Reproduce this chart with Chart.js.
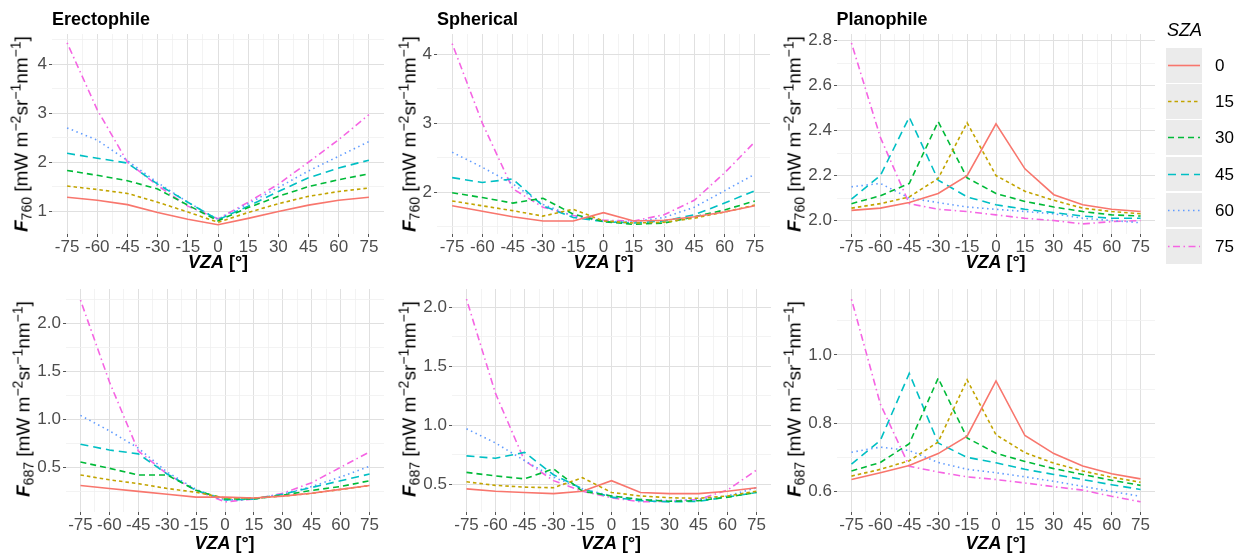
<!DOCTYPE html>
<html><head><meta charset="utf-8">
<script src="https://cdn.jsdelivr.net/npm/chart.js@4"></script>
<style>
html,body{margin:0;padding:0;background:#fff;}
body{width:1238px;height:558px;position:relative;overflow:hidden;font-family:"Liberation Sans",Arial,sans-serif;}
canvas{position:absolute;}
.ptitle{position:absolute;font-weight:bold;font-size:18px;line-height:20px;color:#000;white-space:nowrap;}
.ytitle{position:absolute;font-size:19px;line-height:20px;white-space:nowrap;color:#000;transform:translate(-50%,-50%) rotate(-90deg);}
.ytitle .b{font-weight:bold;font-style:italic;}
.ytitle .sub{font-size:14px;position:relative;top:4px;}
.ytitle .sup{font-size:14px;position:relative;top:-7px;}
.xtitle{position:absolute;font-size:18px;line-height:20px;font-weight:bold;white-space:nowrap;color:#000;transform:translate(-50%,-50%);}
.legtitle{position:absolute;font-size:18px;font-style:italic;line-height:20px;color:#000;}
.legkey{position:absolute;background:#ebebeb;}
.leglab{position:absolute;font-size:17px;line-height:20px;color:#000;}
</style>
</head><body>
<script>
// ---------- data ----------
const vza = [-75, -60, -45, -30, -15, 0, 15, 30, 45, 60, 75];
const szaLevels = ['0', '15', '30', '45', '60', '75'];
const xTickValues = [-75, -60, -45, -30, -15, 0, 15, 30, 45, 60, 75];
const xTickLabels = ['-75', '-60', '-45', '-30', '-15', '0', '15', '30', '45', '60', '75'];

// rows: SZA 0, 15, 30, 45, 60, 75 ; columns: VZA
const erectophile760 = [
  [1.28, 1.22, 1.13, 0.97, 0.83, 0.72, 0.85, 0.99, 1.12, 1.22, 1.28],
  [1.51, 1.44, 1.36, 1.18, 0.98, 0.77, 0.97, 1.15, 1.30, 1.40, 1.47],
  [1.83, 1.73, 1.62, 1.45, 1.12, 0.80, 1.07, 1.30, 1.50, 1.64, 1.76],
  [2.18, 2.08, 1.98, 1.55, 1.18, 0.82, 1.10, 1.40, 1.68, 1.88, 2.04],
  [2.70, 2.45, 2.03, 1.58, 1.18, 0.83, 1.15, 1.48, 1.82, 2.12, 2.42],
  [4.44, 3.07, 2.00, 1.52, 1.10, 0.84, 1.18, 1.55, 2.00, 2.46, 2.97]
];
const spherical760 = [
  [1.80, 1.72, 1.64, 1.58, 1.58, 1.70, 1.58, 1.59, 1.64, 1.71, 1.80],
  [1.87, 1.80, 1.73, 1.65, 1.75, 1.58, 1.55, 1.56, 1.62, 1.71, 1.81],
  [1.99, 1.92, 1.84, 1.91, 1.68, 1.57, 1.53, 1.55, 1.64, 1.74, 1.87],
  [2.21, 2.14, 2.19, 1.80, 1.63, 1.57, 1.55, 1.58, 1.67, 1.84, 2.02],
  [2.58, 2.36, 2.12, 1.82, 1.65, 1.57, 1.57, 1.63, 1.78, 2.02, 2.26],
  [4.16, 3.00, 2.05, 1.78, 1.66, 1.59, 1.58, 1.67, 1.88, 2.28, 2.73]
];
const planophile760 = [
  [2.045, 2.055, 2.08, 2.12, 2.20, 2.43, 2.23, 2.115, 2.07, 2.05, 2.04],
  [2.055, 2.075, 2.105, 2.187, 2.435, 2.20, 2.13, 2.09, 2.055, 2.04, 2.03],
  [2.075, 2.11, 2.165, 2.44, 2.19, 2.12, 2.085, 2.06, 2.04, 2.025, 2.02],
  [2.095, 2.20, 2.46, 2.18, 2.105, 2.07, 2.05, 2.035, 2.02, 2.01, 2.01],
  [2.15, 2.165, 2.10, 2.08, 2.06, 2.05, 2.04, 2.03, 2.01, 2.00, 1.99],
  [2.79, 2.37, 2.075, 2.05, 2.04, 2.025, 2.01, 2.00, 1.985, 1.995, 2.00]
];
const erectophile687 = [
  [0.31, 0.28, 0.25, 0.22, 0.19, 0.19, 0.18, 0.20, 0.23, 0.27, 0.31],
  [0.42, 0.37, 0.33, 0.28, 0.24, 0.18, 0.18, 0.20, 0.23, 0.27, 0.31],
  [0.555, 0.49, 0.42, 0.42, 0.26, 0.17, 0.17, 0.21, 0.26, 0.30, 0.36],
  [0.74, 0.68, 0.64, 0.43, 0.26, 0.16, 0.17, 0.22, 0.29, 0.36, 0.43],
  [1.04, 0.88, 0.70, 0.45, 0.27, 0.16, 0.17, 0.22, 0.30, 0.40, 0.51],
  [2.24, 1.39, 0.67, 0.43, 0.26, 0.14, 0.17, 0.23, 0.34, 0.50, 0.66]
];
const spherical687 = [
  [0.46, 0.44, 0.43, 0.42, 0.44, 0.53, 0.43, 0.42, 0.42, 0.44, 0.47],
  [0.52, 0.49, 0.475, 0.47, 0.555, 0.43, 0.40, 0.385, 0.38, 0.40, 0.44],
  [0.60, 0.57, 0.545, 0.63, 0.44, 0.40, 0.37, 0.355, 0.36, 0.39, 0.43],
  [0.74, 0.72, 0.77, 0.58, 0.46, 0.39, 0.36, 0.35, 0.355, 0.39, 0.43],
  [0.97, 0.85, 0.70, 0.56, 0.46, 0.40, 0.37, 0.36, 0.37, 0.40, 0.47],
  [2.07, 1.27, 0.70, 0.53, 0.44, 0.385, 0.35, 0.355, 0.37, 0.45, 0.62]
];
const planophile687 = [
  [0.635, 0.655, 0.676, 0.711, 0.762, 0.924, 0.764, 0.711, 0.675, 0.652, 0.637],
  [0.645, 0.665, 0.69, 0.745, 0.927, 0.766, 0.714, 0.683, 0.66, 0.642, 0.627],
  [0.66, 0.685, 0.74, 0.932, 0.757, 0.712, 0.688, 0.667, 0.65, 0.633, 0.618],
  [0.68, 0.75, 0.946, 0.742, 0.70, 0.684, 0.665, 0.65, 0.635, 0.62, 0.606],
  [0.715, 0.73, 0.72, 0.685, 0.665, 0.655, 0.643, 0.63, 0.615, 0.60, 0.586],
  [1.163, 0.856, 0.674, 0.657, 0.643, 0.635, 0.625, 0.614, 0.604, 0.586, 0.57]
];

const yTicks760Ere = [1, 2, 3, 4];
const yLabels760Ere = ['1', '2', '3', '4'];
const yTicks760Sph = [2, 3, 4];
const yLabels760Sph = ['2', '3', '4'];
const yTicks760Pla = [2.0, 2.2, 2.4, 2.6, 2.8];
const yLabels760Pla = ['2.0', '2.2', '2.4', '2.6', '2.8'];
const yTicks687 = [0.5, 1.0, 1.5, 2.0];
const yLabels687 = ['0.5', '1.0', '1.5', '2.0'];
const yTicks687Pla = [0.6, 0.8, 1.0];
const yLabels687Pla = ['0.6', '0.8', '1.0'];

// ---------- styling ----------
const colors = ['#F8766D', '#C2A400', '#00BA38', '#00BFC4', '#619CFF', '#F564E3'];
const dashes = [[], [3.5, 3], [6, 4], [8, 5], [1.5, 3.5], [1.5, 3.5, 7, 3.5]];
const FONT = '"Liberation Sans", Arial, sans-serif';
const YW = 46, XH = 26, PT = 14, PR = 12;

const panels = [
  {data: erectophile760, L: 52, R: 384, T: 34, B: 234, ymin: 0.53, ymax: 4.62, yt: yTicks760Ere, yl: yLabels760Ere, ym: [1.5, 2.5, 3.5, 4.5], title: 'Erectophile', band: '760'},
  {data: spherical760, L: 437, R: 770, T: 34, B: 234, ymin: 1.39, ymax: 4.30, yt: yTicks760Sph, yl: yLabels760Sph, ym: [1.5, 2.5, 3.5], title: 'Spherical', band: '760'},
  {data: planophile760, L: 836.5, R: 1154.5, T: 34, B: 234, ymin: 1.94, ymax: 2.83, yt: yTicks760Pla, yl: yLabels760Pla, ym: [2.1, 2.3, 2.5, 2.7], title: 'Planophile', band: '760'},
  {data: erectophile687, L: 65.5, R: 383.5, T: 289, B: 512, ymin: 0.035, ymax: 2.355, yt: yTicks687, yl: yLabels687, ym: [0.25, 0.75, 1.25, 1.75, 2.25], band: '687'},
  {data: spherical687, L: 451.5, R: 770.5, T: 289, B: 512, ymin: 0.264, ymax: 2.156, yt: yTicks687, yl: yLabels687, ym: [0.75, 1.25, 1.75], band: '687'},
  {data: planophile687, L: 836.5, R: 1154.5, T: 289, B: 512, ymin: 0.54, ymax: 1.193, yt: yTicks687Pla, yl: yLabels687Pla, ym: [0.7, 0.9, 1.1], band: '687'}
];
const yTitleCenters = [[22, 134], [410, 134], [795, 134], [24, 399], [410, 399], [795, 399]];
const xMinor = [-67.5, -52.5, -37.5, -22.5, -7.5, 7.5, 22.5, 37.5, 52.5, 67.5];

function addDiv(cls, html, style) {
  const d = document.createElement('div');
  d.className = cls; d.innerHTML = html;
  Object.assign(d.style, style);
  document.body.appendChild(d);
  return d;
}

panels.forEach((p, idx) => {
  const cv = document.createElement('canvas');
  const w = YW + (p.R - p.L) + PR, h = PT + (p.B - p.T) + XH;
  cv.width = Math.round(w); cv.height = Math.round(h);
  cv.style.left = (p.L - YW) + 'px'; cv.style.top = (p.T - PT) + 'px';
  cv.style.width = cv.width + 'px'; cv.style.height = cv.height + 'px';
  document.body.appendChild(cv);

  const xAll = xTickValues.concat(xMinor).sort((a, b) => a - b);
  const yAll = p.yt.concat(p.ym).sort((a, b) => a - b);
  const isMajX = v => xTickValues.indexOf(v) >= 0;
  const isMajY = v => p.yt.indexOf(v) >= 0;

  new Chart(cv, {
    type: 'line',
    data: {
      datasets: p.data.map((vals, i) => ({
        label: szaLevels[i],
        data: vza.map((x, j) => ({x: x, y: vals[j]})),
        borderColor: colors[i], borderDash: dashes[i], borderWidth: 1.6,
        pointRadius: 0, fill: false, tension: 0, borderCapStyle: 'butt'
      }))
    },
    options: {
      responsive: false, animation: false, devicePixelRatio: 1,
      layout: {padding: {top: PT, right: PR, left: 0, bottom: 0}},
      plugins: {legend: {display: false}, tooltip: {enabled: false}, title: {display: false}},
      scales: {
        x: {
          type: 'linear', min: -82.5, max: 82.5,
          afterBuildTicks: s => { s.ticks = xAll.map(v => ({value: v})); },
          afterFit: s => { s.height = XH; },
          ticks: {
            autoSkip: false, maxRotation: 0, minRotation: 0, padding: 0, color: '#4d4d4d',
            font: {family: FONT, size: 17},
            callback: v => { const k = xTickValues.indexOf(v); return k >= 0 ? xTickLabels[k] : ''; }
          },
          grid: {
            color: c => (c.tick && isMajX(c.tick.value)) ? '#e0e0e0' : '#f0f0f0',
            lineWidth: c => (c.tick && isMajX(c.tick.value)) ? 1 : 0.8,
            tickLength: 3,
            tickColor: c => (c.tick && isMajX(c.tick.value)) ? '#555' : 'rgba(0,0,0,0)'
          },
          border: {display: false}
        },
        y: {
          type: 'linear', min: p.ymin, max: p.ymax,
          afterBuildTicks: s => { s.ticks = yAll.map(v => ({value: v})); },
          afterFit: s => { s.width = YW; },
          ticks: {
            autoSkip: false, padding: 2, color: '#4d4d4d',
            font: {family: FONT, size: 17},
            callback: v => { const k = p.yt.indexOf(v); return k >= 0 ? p.yl[k] : ''; }
          },
          grid: {
            color: c => (c.tick && isMajY(c.tick.value)) ? '#e0e0e0' : '#f0f0f0',
            lineWidth: c => (c.tick && isMajY(c.tick.value)) ? 1 : 0.8,
            tickLength: 3,
            tickColor: c => (c.tick && isMajY(c.tick.value)) ? '#555' : 'rgba(0,0,0,0)'
          },
          border: {display: false}
        }
      }
    }
  });

  if (p.title) addDiv('ptitle', p.title, {left: p.L + 'px', top: '9px'});
  const c = yTitleCenters[idx];
  addDiv('ytitle', '<span class="b">F</span><span class="sub">' + p.band + '</span> [mW m<span class="sup">−2</span>sr<span class="sup">−1</span>nm<span class="sup">−1</span>]',
    {left: c[0] + 'px', top: c[1] + 'px'});
  const xc = (p.L + p.R) / 2, yc = p.T < 100 ? 262 : 543;
  addDiv('xtitle', '<i>VZA</i> [°]', {left: xc + 'px', top: yc + 'px'});
});

// ---------- legend ----------
addDiv('legtitle', 'SZA', {left: '1167px', top: '20px'});
szaLevels.forEach((lab, i) => {
  const top = 48 + i * 36.2;
  const k = addDiv('legkey', '', {left: '1166px', top: top + 'px', width: '36px', height: '34.5px'});
  k.innerHTML = '<svg width="36" height="35"><line x1="2" y1="17.5" x2="34" y2="17.5" stroke="' + colors[i] +
    '" stroke-width="1.6" stroke-dasharray="' + (dashes[i].length ? dashes[i].join(',') : 'none') + '"/></svg>';
  addDiv('leglab', lab, {left: '1215px', top: (top + 8) + 'px'});
});
</script>
</body></html>
